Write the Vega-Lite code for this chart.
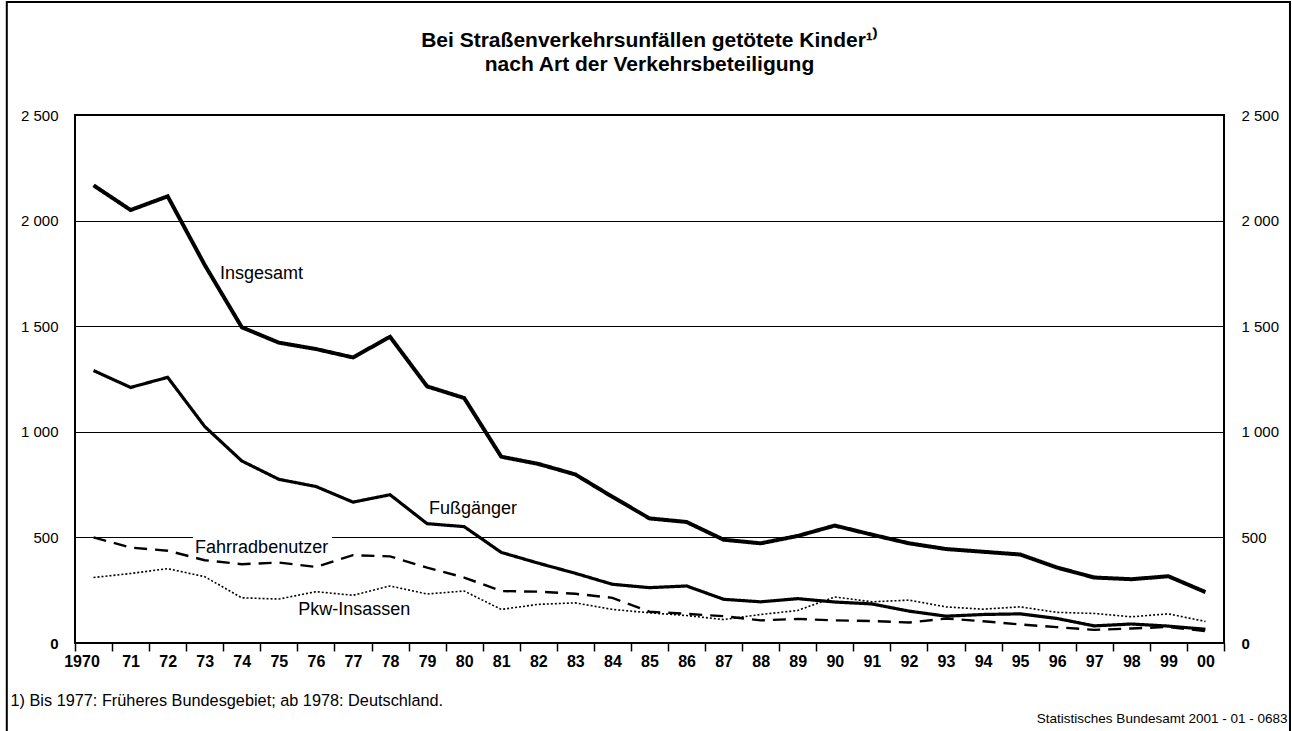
{
  "$schema": "https://vega.github.io/schema/vega-lite/v6.json",
  "width": 1149,
  "height": 528,
  "autosize": {"type": "none"},
  "padding": {"left": 75, "top": 115, "right": 68, "bottom": 88},
  "background": "white",
  "config": {
    "font": "Liberation Sans",
    "view": {"stroke": "black", "strokeWidth": 2},
    "axis": {"labelColor": "black", "titleColor": "black", "labelFont": "Liberation Sans", "titleFont": "Liberation Sans"}
  },
  "title": {
    "text": ["Bei Straßenverkehrsunfällen getötete Kinder¹⁾", "nach Art der Verkehrsbeteiligung"],
    "fontSize": 21,
    "fontWeight": "bold",
    "lineHeight": 24,
    "anchor": "middle",
    "frame": "group",
    "offset": -74,
    "color": "black",
    "font": "Liberation Sans"
  },
  "datasets": {
    "lines": [
      {"year": 1970, "series": "Insgesamt", "value": 2167},
      {"year": 1971, "series": "Insgesamt", "value": 2050},
      {"year": 1972, "series": "Insgesamt", "value": 2115},
      {"year": 1973, "series": "Insgesamt", "value": 1790},
      {"year": 1974, "series": "Insgesamt", "value": 1495},
      {"year": 1975, "series": "Insgesamt", "value": 1422},
      {"year": 1976, "series": "Insgesamt", "value": 1392},
      {"year": 1977, "series": "Insgesamt", "value": 1352},
      {"year": 1978, "series": "Insgesamt", "value": 1450},
      {"year": 1979, "series": "Insgesamt", "value": 1215},
      {"year": 1980, "series": "Insgesamt", "value": 1160},
      {"year": 1981, "series": "Insgesamt", "value": 882},
      {"year": 1982, "series": "Insgesamt", "value": 848},
      {"year": 1983, "series": "Insgesamt", "value": 798},
      {"year": 1984, "series": "Insgesamt", "value": 692},
      {"year": 1985, "series": "Insgesamt", "value": 590},
      {"year": 1986, "series": "Insgesamt", "value": 573},
      {"year": 1987, "series": "Insgesamt", "value": 489},
      {"year": 1988, "series": "Insgesamt", "value": 472},
      {"year": 1989, "series": "Insgesamt", "value": 507},
      {"year": 1990, "series": "Insgesamt", "value": 556},
      {"year": 1991, "series": "Insgesamt", "value": 513},
      {"year": 1992, "series": "Insgesamt", "value": 472},
      {"year": 1993, "series": "Insgesamt", "value": 445},
      {"year": 1994, "series": "Insgesamt", "value": 432},
      {"year": 1995, "series": "Insgesamt", "value": 419},
      {"year": 1996, "series": "Insgesamt", "value": 357},
      {"year": 1997, "series": "Insgesamt", "value": 310},
      {"year": 1998, "series": "Insgesamt", "value": 302},
      {"year": 1999, "series": "Insgesamt", "value": 316},
      {"year": 2000, "series": "Insgesamt", "value": 241},
      {"year": 1970, "series": "Fußgänger", "value": 1290},
      {"year": 1971, "series": "Fußgänger", "value": 1210},
      {"year": 1972, "series": "Fußgänger", "value": 1258},
      {"year": 1973, "series": "Fußgänger", "value": 1025},
      {"year": 1974, "series": "Fußgänger", "value": 862},
      {"year": 1975, "series": "Fußgänger", "value": 775},
      {"year": 1976, "series": "Fußgänger", "value": 741},
      {"year": 1977, "series": "Fußgänger", "value": 667},
      {"year": 1978, "series": "Fußgänger", "value": 702},
      {"year": 1979, "series": "Fußgänger", "value": 565},
      {"year": 1980, "series": "Fußgänger", "value": 551},
      {"year": 1981, "series": "Fußgänger", "value": 429},
      {"year": 1982, "series": "Fußgänger", "value": 378},
      {"year": 1983, "series": "Fußgänger", "value": 330},
      {"year": 1984, "series": "Fußgänger", "value": 278},
      {"year": 1985, "series": "Fußgänger", "value": 262},
      {"year": 1986, "series": "Fußgänger", "value": 270},
      {"year": 1987, "series": "Fußgänger", "value": 207},
      {"year": 1988, "series": "Fußgänger", "value": 195},
      {"year": 1989, "series": "Fußgänger", "value": 210},
      {"year": 1990, "series": "Fußgänger", "value": 194},
      {"year": 1991, "series": "Fußgänger", "value": 185},
      {"year": 1992, "series": "Fußgänger", "value": 151},
      {"year": 1993, "series": "Fußgänger", "value": 127},
      {"year": 1994, "series": "Fußgänger", "value": 135},
      {"year": 1995, "series": "Fußgänger", "value": 138},
      {"year": 1996, "series": "Fußgänger", "value": 116},
      {"year": 1997, "series": "Fußgänger", "value": 81},
      {"year": 1998, "series": "Fußgänger", "value": 90},
      {"year": 1999, "series": "Fußgänger", "value": 80},
      {"year": 2000, "series": "Fußgänger", "value": 65},
      {"year": 1970, "series": "Fahrradbenutzer", "value": 500},
      {"year": 1971, "series": "Fahrradbenutzer", "value": 452},
      {"year": 1972, "series": "Fahrradbenutzer", "value": 437},
      {"year": 1973, "series": "Fahrradbenutzer", "value": 392},
      {"year": 1974, "series": "Fahrradbenutzer", "value": 373},
      {"year": 1975, "series": "Fahrradbenutzer", "value": 381},
      {"year": 1976, "series": "Fahrradbenutzer", "value": 360},
      {"year": 1977, "series": "Fahrradbenutzer", "value": 416},
      {"year": 1978, "series": "Fahrradbenutzer", "value": 410},
      {"year": 1979, "series": "Fahrradbenutzer", "value": 357},
      {"year": 1980, "series": "Fahrradbenutzer", "value": 310},
      {"year": 1981, "series": "Fahrradbenutzer", "value": 246},
      {"year": 1982, "series": "Fahrradbenutzer", "value": 243},
      {"year": 1983, "series": "Fahrradbenutzer", "value": 233},
      {"year": 1984, "series": "Fahrradbenutzer", "value": 214},
      {"year": 1985, "series": "Fahrradbenutzer", "value": 148},
      {"year": 1986, "series": "Fahrradbenutzer", "value": 138},
      {"year": 1987, "series": "Fahrradbenutzer", "value": 127},
      {"year": 1988, "series": "Fahrradbenutzer", "value": 107},
      {"year": 1989, "series": "Fahrradbenutzer", "value": 114},
      {"year": 1990, "series": "Fahrradbenutzer", "value": 107},
      {"year": 1991, "series": "Fahrradbenutzer", "value": 104},
      {"year": 1992, "series": "Fahrradbenutzer", "value": 97},
      {"year": 1993, "series": "Fahrradbenutzer", "value": 116},
      {"year": 1994, "series": "Fahrradbenutzer", "value": 103},
      {"year": 1995, "series": "Fahrradbenutzer", "value": 88},
      {"year": 1996, "series": "Fahrradbenutzer", "value": 75},
      {"year": 1997, "series": "Fahrradbenutzer", "value": 62},
      {"year": 1998, "series": "Fahrradbenutzer", "value": 69},
      {"year": 1999, "series": "Fahrradbenutzer", "value": 76},
      {"year": 2000, "series": "Fahrradbenutzer", "value": 56},
      {"year": 1970, "series": "Pkw-Insassen", "value": 310},
      {"year": 1971, "series": "Pkw-Insassen", "value": 329},
      {"year": 1972, "series": "Pkw-Insassen", "value": 352},
      {"year": 1973, "series": "Pkw-Insassen", "value": 314},
      {"year": 1974, "series": "Pkw-Insassen", "value": 214},
      {"year": 1975, "series": "Pkw-Insassen", "value": 208},
      {"year": 1976, "series": "Pkw-Insassen", "value": 243},
      {"year": 1977, "series": "Pkw-Insassen", "value": 226},
      {"year": 1978, "series": "Pkw-Insassen", "value": 270},
      {"year": 1979, "series": "Pkw-Insassen", "value": 232},
      {"year": 1980, "series": "Pkw-Insassen", "value": 246},
      {"year": 1981, "series": "Pkw-Insassen", "value": 159},
      {"year": 1982, "series": "Pkw-Insassen", "value": 183},
      {"year": 1983, "series": "Pkw-Insassen", "value": 190},
      {"year": 1984, "series": "Pkw-Insassen", "value": 159},
      {"year": 1985, "series": "Pkw-Insassen", "value": 143},
      {"year": 1986, "series": "Pkw-Insassen", "value": 130},
      {"year": 1987, "series": "Pkw-Insassen", "value": 111},
      {"year": 1988, "series": "Pkw-Insassen", "value": 135},
      {"year": 1989, "series": "Pkw-Insassen", "value": 154},
      {"year": 1990, "series": "Pkw-Insassen", "value": 218},
      {"year": 1991, "series": "Pkw-Insassen", "value": 195},
      {"year": 1992, "series": "Pkw-Insassen", "value": 203},
      {"year": 1993, "series": "Pkw-Insassen", "value": 171},
      {"year": 1994, "series": "Pkw-Insassen", "value": 160},
      {"year": 1995, "series": "Pkw-Insassen", "value": 171},
      {"year": 1996, "series": "Pkw-Insassen", "value": 145},
      {"year": 1997, "series": "Pkw-Insassen", "value": 140},
      {"year": 1998, "series": "Pkw-Insassen", "value": 124},
      {"year": 1999, "series": "Pkw-Insassen", "value": 138},
      {"year": 2000, "series": "Pkw-Insassen", "value": 102}
    ],
    "labels": [
      {"year": 1973.41, "value": 1723, "label": "Insgesamt"},
      {"year": 1979.05, "value": 609, "label": "Fußgänger"},
      {"year": 1972.74, "value": 426, "label": "Fahrradbenutzer"},
      {"year": 1975.52, "value": 133, "label": "Pkw-Insassen"}
    ],
    "gap": [
      {"year": 1972.68, "year2": 1976.43, "value": 490, "value2": 540}
    ],
    "frame": [
      {"year": 1967.66, "year2": 2002.28, "value": -470, "value2": 3035}
    ]
  },
  "encoding": {
    "x": {
      "field": "year",
      "type": "quantitative",
      "scale": {"domain": [1969.5, 2000.5], "nice": false, "zero": false},
      "axis": {
        "orient": "bottom",
        "values": [1969.5, 1970.5, 1971.5, 1972.5, 1973.5, 1974.5, 1975.5, 1976.5, 1977.5, 1978.5, 1979.5, 1980.5, 1981.5, 1982.5, 1983.5, 1984.5, 1985.5, 1986.5, 1987.5, 1988.5, 1989.5, 1990.5, 1991.5, 1992.5, 1993.5, 1994.5, 1995.5, 1996.5, 1997.5, 1998.5, 1999.5, 2000.5],
        "labelExpr": "datum.value > 2000 ? '' : (datum.value < 1970 ? '1970' : format((datum.value + 0.5) % 100, '02d'))",
        "labelOffset": {"condition": {"test": "datum.value < 1970", "value": 6.5}, "value": 18.5},
        "labelFlush": false,
        "labelOverlap": false,
        "labelBound": false,
        "labelFontSize": 16,
        "labelFontWeight": "bold",
        "labelPadding": 2,
        "domain": false,
        "grid": false,
        "ticks": true,
        "tickSize": 8,
        "tickWidth": 1.5,
        "tickColor": "black",
        "title": "1) Bis 1977: Früheres Bundesgebiet; ab 1978: Deutschland.",
        "titleX": -65,
        "titleY": 62,
        "titleAlign": "left",
        "titleAnchor": "start",
        "titleBaseline": "alphabetic",
        "titleFontSize": 16.3,
        "titleFontWeight": "normal"
      }
    },
    "y": {
      "field": "value",
      "type": "quantitative",
      "scale": {"domain": [0, 2500], "nice": false},
      "axis": {
        "orient": "left",
        "values": [0, 500, 1000, 1500, 2000, 2500],
        "labelExpr": "replace(format(datum.value, ','), ',', ' ')",
        "labelFontWeight": {"condition": {"test": "datum.value == 0", "value": "bold"}, "value": "normal"},
        "labelFontSize": 15,
        "labelPadding": 17,
        "grid": true,
        "gridColor": "black",
        "gridWidth": 1,
        "gridOpacity": 1,
        "domain": false,
        "ticks": false,
        "title": null
      }
    }
  },
  "layer": [
    {
      "data": {"name": "frame"},
      "mark": {"type": "rect", "filled": false, "stroke": "black", "strokeWidth": 2, "clip": false},
      "encoding": {
        "x2": {"field": "year2"},
        "y": {"field": "value", "type": "quantitative", "axis": null},
        "y2": {"field": "value2"}
      }
    },
    {
      "data": {"name": "gap"},
      "mark": {"type": "rect", "color": "white"},
      "encoding": {
        "x2": {"field": "year2"},
        "y": {"field": "value", "type": "quantitative", "axis": null},
        "y2": {"field": "value2"}
      }
    },
    {
      "data": {"name": "lines"},
      "mark": {"type": "line", "color": "black", "strokeJoin": "miter", "strokeCap": "butt"},
      "encoding": {
        "detail": {"field": "series"},
        "strokeDash": {
          "field": "series",
          "type": "nominal",
          "scale": {"domain": ["Insgesamt", "Fußgänger", "Fahrradbenutzer", "Pkw-Insassen"], "range": [[1, 0], [1, 0], [13, 8], [2, 2]]},
          "legend": null
        },
        "strokeWidth": {
          "field": "series",
          "type": "nominal",
          "scale": {"domain": ["Insgesamt", "Fußgänger", "Fahrradbenutzer", "Pkw-Insassen"], "range": [4, 1.6, 1.8, 2]},
          "legend": null
        }
      }
    },
    {
      "data": {"name": "labels"},
      "mark": {"type": "text", "align": "left", "baseline": "alphabetic", "fontSize": 18, "color": "black", "font": "Liberation Sans"},
      "encoding": {
        "text": {"field": "label"},
        "y": {
          "field": "value",
          "type": "quantitative",
          "axis": {
            "orient": "right",
            "values": [0, 500, 1000, 1500, 2000, 2500],
            "labelExpr": "replace(format(datum.value, ','), ',', ' ')",
            "labelFontWeight": {"condition": {"test": "datum.value == 0", "value": "bold"}, "value": "normal"},
            "labelFontSize": 15,
            "labelPadding": 17,
            "grid": false,
            "domain": false,
            "ticks": false,
            "title": "Statistisches Bundesamt 2001 - 01 - 0683",
            "titleAngle": 0,
            "titleX": 63,
            "titleY": 607.7,
            "titleAlign": "right",
            "titleBaseline": "alphabetic",
            "titleFontSize": 13.5,
            "titleFontWeight": "normal"
          }
        }
      }
    }
  ],
  "resolve": {"axis": {"y": "independent"}}
}
